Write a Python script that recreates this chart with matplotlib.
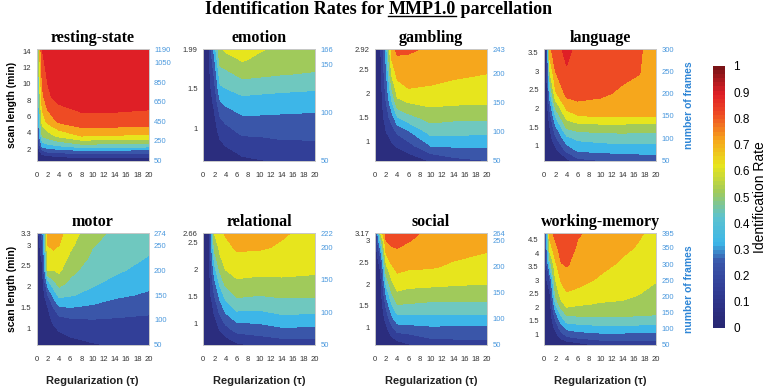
import matplotlib
matplotlib.use("Agg")
import matplotlib.pyplot as plt
import numpy as np
from matplotlib.colors import LinearSegmentedColormap, Normalize
from matplotlib.cm import ScalarMappable
from matplotlib.lines import Line2D

plt.rcParams['font.family'] = ['Liberation Sans', 'DejaVu Sans']

# identification rate grids, one list per tau column (values go up the frames axis)

# resting-state
rest_tau = [0, 0.5, 1, 2, 4, 8, 14, 20]
rest_frames = [50, 100, 150, 200, 300, 450, 700, 1190]
rest_rate = [
    [0.02, 0.02, 0.02, 0.02, 0.02, 0.02, 0.02, 0.02],
    [0.01, 0.04, 0.10, 0.18, 0.30, 0.42, 0.55, 0.70],
    [0.02, 0.08, 0.19, 0.33, 0.51, 0.64, 0.77, 0.90],
    [0.03, 0.10, 0.24, 0.37, 0.55, 0.73, 0.885, 0.94],
    [0.04, 0.115, 0.26, 0.40, 0.62, 0.82, 0.935, 0.96],
    [0.05, 0.14, 0.29, 0.46, 0.70, 0.87, 0.95, 0.965],
    [0.05, 0.13, 0.28, 0.45, 0.69, 0.87, 0.95, 0.965],
    [0.05, 0.13, 0.27, 0.44, 0.68, 0.86, 0.945, 0.96],
]
rest_min = [2, 4, 6, 8, 10, 12, 14]
rest_min_labels = ["2", "4", "6", "8", "10", "12", "14"]
rest_nframes = [50, 250, 450, 650, 850, 1050, 1190]

# emotion
emo_tau = [0, 1, 2, 3, 4, 7, 10, 14, 20]
emo_frames = [50, 65, 80, 95, 110, 125, 140, 155, 166]
emo_rate = [
    [0.01, 0.01, 0.01, 0.01, 0.01, 0.01, 0.01, 0.01, 0.01],
    [0.01, 0.02, 0.03, 0.04, 0.05, 0.06, 0.07, 0.08, 0.09],
    [0.02, 0.04, 0.06, 0.085, 0.12, 0.17, 0.22, 0.29, 0.35],
    [0.04, 0.075, 0.13, 0.20, 0.285, 0.38, 0.455, 0.54, 0.59],
    [0.05, 0.10, 0.165, 0.23, 0.32, 0.40, 0.47, 0.56, 0.62],
    [0.08, 0.15, 0.22, 0.29, 0.36, 0.44, 0.53, 0.61, 0.64],
    [0.095, 0.16, 0.22, 0.29, 0.355, 0.43, 0.52, 0.58, 0.61],
    [0.11, 0.175, 0.23, 0.285, 0.35, 0.42, 0.505, 0.56, 0.58],
    [0.12, 0.18, 0.23, 0.28, 0.34, 0.41, 0.49, 0.55, 0.57],
]
emo_min = [1, 1.5, 1.99]
emo_min_labels = ["1", "1.5", "1.99"]
emo_nframes = [50, 100, 150, 166]

# gambling
gam_tau = [0, 1, 2, 3, 4, 6, 10, 14, 20]
gam_frames = [50, 75, 100, 125, 150, 175, 200, 225, 243]
gam_rate = [
    [0.01, 0.01, 0.01, 0.01, 0.01, 0.01, 0.01, 0.01, 0.01],
    [0.01, 0.02, 0.03, 0.04, 0.05, 0.06, 0.07, 0.08, 0.09],
    [0.02, 0.06, 0.10, 0.15, 0.20, 0.24, 0.28, 0.32, 0.35],
    [0.02, 0.08, 0.15, 0.25, 0.38, 0.50, 0.62, 0.70, 0.76],
    [0.02, 0.11, 0.22, 0.40, 0.57, 0.66, 0.73, 0.78, 0.83],
    [0.04, 0.16, 0.29, 0.47, 0.60, 0.70, 0.75, 0.78, 0.82],
    [0.11, 0.30, 0.44, 0.54, 0.625, 0.69, 0.735, 0.76, 0.78],
    [0.17, 0.31, 0.43, 0.525, 0.615, 0.67, 0.72, 0.75, 0.77],
    [0.20, 0.31, 0.425, 0.52, 0.61, 0.655, 0.70, 0.735, 0.76],
]
gam_min = [1, 1.5, 2, 2.5, 2.92]
gam_min_labels = ["1", "1.5", "2", "2.5", "2.92"]
gam_nframes = [50, 100, 150, 200, 243]

# language
lan_tau = [0, 0.5, 1, 2, 4, 6, 10, 14, 17, 18, 20]
lan_frames = [50, 75, 100, 125, 150, 175, 200, 250, 300]
lan_rate = [
    [0.01, 0.01, 0.01, 0.01, 0.01, 0.01, 0.01, 0.01, 0.01],
    [0.01, 0.015, 0.02, 0.03, 0.05, 0.07, 0.09, 0.12, 0.15],
    [0.01, 0.03, 0.06, 0.10, 0.16, 0.25, 0.38, 0.60, 0.78],
    [0.03, 0.08, 0.18, 0.28, 0.41, 0.55, 0.68, 0.80, 0.86],
    [0.07, 0.24, 0.37, 0.52, 0.645, 0.75, 0.83, 0.89, 0.93],
    [0.17, 0.33, 0.42, 0.55, 0.695, 0.79, 0.82, 0.85, 0.87],
    [0.20, 0.34, 0.44, 0.56, 0.71, 0.77, 0.82, 0.84, 0.85],
    [0.22, 0.35, 0.45, 0.56, 0.71, 0.74, 0.78, 0.83, 0.84],
    [0.23, 0.35, 0.445, 0.555, 0.705, 0.735, 0.77, 0.805, 0.82],
    [0.24, 0.35, 0.44, 0.555, 0.705, 0.73, 0.75, 0.775, 0.785],
    [0.24, 0.35, 0.44, 0.555, 0.705, 0.73, 0.75, 0.77, 0.78],
]
lan_min = [1, 1.5, 2, 2.5, 3, 3.5]
lan_min_labels = ["1", "1.5", "2", "2.5", "3", "3.5"]
lan_nframes = [50, 100, 150, 200, 250, 300]

# motor
mot_tau = [0, 1, 2, 3, 4, 6, 10, 14, 20]
mot_frames = [50, 75, 100, 125, 150, 175, 200, 225, 250, 274]
mot_rate = [
    [0.01, 0.01, 0.01, 0.01, 0.01, 0.01, 0.01, 0.01, 0.01, 0.01],
    [0.01, 0.015, 0.02, 0.03, 0.04, 0.05, 0.07, 0.12, 0.18, 0.25],
    [0.02, 0.04, 0.07, 0.10, 0.20, 0.37, 0.60, 0.66, 0.70, 0.72],
    [0.02, 0.07, 0.12, 0.20, 0.33, 0.47, 0.60, 0.67, 0.72, 0.74],
    [0.03, 0.095, 0.16, 0.285, 0.43, 0.54, 0.62, 0.66, 0.70, 0.73],
    [0.05, 0.13, 0.185, 0.30, 0.41, 0.48, 0.53, 0.58, 0.62, 0.65],
    [0.09, 0.15, 0.195, 0.28, 0.365, 0.42, 0.45, 0.48, 0.505, 0.53],
    [0.11, 0.15, 0.19, 0.25, 0.32, 0.37, 0.42, 0.45, 0.47, 0.48],
    [0.11, 0.15, 0.18, 0.23, 0.285, 0.33, 0.36, 0.395, 0.42, 0.45],
]
mot_min = [1, 1.5, 2, 2.5, 3, 3.3]
mot_min_labels = ["1", "1.5", "2", "2.5", "3", "3.3"]
mot_nframes = [50, 100, 150, 200, 250, 274]

# relational
rel_tau = [0, 1, 2, 3, 4, 6, 10, 14, 20]
rel_frames = [50, 75, 100, 125, 150, 175, 200, 222]
rel_rate = [
    [0.01, 0.01, 0.01, 0.01, 0.01, 0.01, 0.01, 0.01],
    [0.01, 0.02, 0.03, 0.04, 0.05, 0.06, 0.07, 0.08],
    [0.02, 0.05, 0.11, 0.20, 0.29, 0.41, 0.53, 0.60],
    [0.02, 0.11, 0.22, 0.33, 0.45, 0.56, 0.63, 0.68],
    [0.03, 0.17, 0.305, 0.43, 0.55, 0.63, 0.67, 0.71],
    [0.08, 0.245, 0.39, 0.51, 0.595, 0.655, 0.715, 0.75],
    [0.12, 0.26, 0.385, 0.495, 0.585, 0.65, 0.71, 0.75],
    [0.14, 0.29, 0.415, 0.51, 0.59, 0.645, 0.69, 0.71],
    [0.15, 0.285, 0.41, 0.505, 0.585, 0.63, 0.655, 0.67],
]
rel_min = [1, 1.5, 2, 2.5, 2.66]
rel_min_labels = ["1", "1.5", "2", "2.5", "2.66"]
rel_nframes = [50, 100, 150, 200, 222]

# social
soc_tau = [0, 1, 2, 3, 4, 6, 10, 14, 20]
soc_frames = [50, 75, 100, 125, 150, 175, 200, 225, 250, 264]
soc_rate = [
    [0.01, 0.01, 0.01, 0.01, 0.01, 0.01, 0.01, 0.01, 0.01, 0.01],
    [0.01, 0.02, 0.03, 0.04, 0.05, 0.07, 0.12, 0.25, 0.45, 0.60],
    [0.02, 0.06, 0.13, 0.22, 0.33, 0.46, 0.58, 0.705, 0.80, 0.86],
    [0.03, 0.14, 0.27, 0.39, 0.50, 0.60, 0.69, 0.76, 0.83, 0.88],
    [0.05, 0.21, 0.36, 0.49, 0.59, 0.67, 0.73, 0.78, 0.83, 0.87],
    [0.09, 0.22, 0.365, 0.485, 0.575, 0.65, 0.715, 0.755, 0.805, 0.83],
    [0.15, 0.25, 0.365, 0.47, 0.565, 0.645, 0.71, 0.74, 0.76, 0.77],
    [0.16, 0.25, 0.36, 0.47, 0.565, 0.63, 0.685, 0.72, 0.745, 0.755],
    [0.16, 0.25, 0.36, 0.47, 0.56, 0.62, 0.66, 0.697, 0.725, 0.74],
]
soc_min = [1, 1.5, 2, 2.5, 3, 3.17]
soc_min_labels = ["1", "1.5", "2", "2.5", "3", "3.17"]
soc_nframes = [50, 100, 150, 200, 250, 264]

# working-memory
wm_tau = [0, 1, 2, 3, 4, 6, 10, 14, 17, 20]
wm_frames = [50, 75, 100, 125, 150, 175, 200, 250, 300, 350, 395]
wm_rate = [
    [0.01, 0.01, 0.01, 0.01, 0.01, 0.01, 0.01, 0.01, 0.01, 0.01, 0.01],
    [0.01, 0.015, 0.02, 0.03, 0.04, 0.05, 0.07, 0.20, 0.45, 0.65, 0.75],
    [0.01, 0.05, 0.12, 0.20, 0.29, 0.40, 0.50, 0.60, 0.68, 0.77, 0.84],
    [0.015, 0.13, 0.24, 0.34, 0.44, 0.56, 0.63, 0.71, 0.795, 0.84, 0.86],
    [0.02, 0.195, 0.315, 0.435, 0.54, 0.63, 0.68, 0.75, 0.81, 0.85, 0.87],
    [0.05, 0.23, 0.34, 0.45, 0.54, 0.61, 0.66, 0.735, 0.765, 0.785, 0.81],
    [0.13, 0.25, 0.36, 0.46, 0.54, 0.59, 0.63, 0.685, 0.73, 0.75, 0.76],
    [0.14, 0.25, 0.36, 0.46, 0.54, 0.585, 0.615, 0.65, 0.685, 0.72, 0.735],
    [0.14, 0.245, 0.355, 0.455, 0.53, 0.57, 0.595, 0.635, 0.665, 0.69, 0.71],
    [0.14, 0.245, 0.35, 0.45, 0.52, 0.55, 0.57, 0.605, 0.63, 0.65, 0.67],
]
wm_min = [1, 1.5, 2, 2.5, 3, 3.5, 4, 4.5]
wm_min_labels = ["1", "1.5", "2", "2.5", "3", "3.5", "4", "4.5"]
wm_nframes = [50, 100, 150, 200, 250, 300, 350, 395]

panels = [
    ("resting-state", rest_tau, rest_frames, rest_rate, rest_min, rest_min_labels, rest_nframes),
    ("emotion", emo_tau, emo_frames, emo_rate, emo_min, emo_min_labels, emo_nframes),
    ("gambling", gam_tau, gam_frames, gam_rate, gam_min, gam_min_labels, gam_nframes),
    ("language", lan_tau, lan_frames, lan_rate, lan_min, lan_min_labels, lan_nframes),
    ("motor", mot_tau, mot_frames, mot_rate, mot_min, mot_min_labels, mot_nframes),
    ("relational", rel_tau, rel_frames, rel_rate, rel_min, rel_min_labels, rel_nframes),
    ("social", soc_tau, soc_frames, soc_rate, soc_min, soc_min_labels, soc_nframes),
    ("working-memory", wm_tau, wm_frames, wm_rate, wm_min, wm_min_labels, wm_nframes),
]

TR_MIN = 0.72 / 60  # minutes per frame

band_colors = ['#2b2d7e', '#323f98', '#3a56a9', '#3db6e8', '#6fc8bf',
               '#a0ca5b', '#e7e51d', '#f6a71c', '#ee4b24', '#df1f26']
cbar_cmap = LinearSegmentedColormap.from_list(
    "idrate",
    [(0.0, '#272773'), (0.05, '#2b2d7e'), (0.15, '#323f98'), (0.25, '#3a56a9'),
     (0.32, '#3db6e8'), (0.42, '#5cc2cf'), (0.52, '#a0ca5b'), (0.62, '#e7e51d'),
     (0.72, '#f6a71c'), (0.82, '#ee4b24'), (0.9, '#df1f26'), (1.0, '#7a1316')], N=64)
levels = np.arange(0, 1.01, 0.1)

W, H = 769, 388
fig = plt.figure(figsize=(W / 100, H / 100), dpi=100)

col_x = [36.7, 203.3, 375, 544.3]
row_top = [49, 233.3]
pw, ph = 111.8, 111.5

left_col = '#333333'
right_col = '#4a98dd'
for i, (name, tau, frames, rate, mins, min_labels, nframes) in enumerate(panels):
    r, c = divmod(i, 4)
    ax = fig.add_axes([col_x[c] / W, 1 - (row_top[r] + ph) / H, pw / W, ph / H])
    Z = np.array(rate).T
    ax.contourf(tau, frames, Z, levels=levels, colors=band_colors, antialiased=False)
    top = frames[-1]
    ax.set_xlim(0, 20)
    ax.set_ylim(50, top)
    ax.set_xticks(range(0, 21, 2))
    ax.set_yticks([min(m / TR_MIN, top) for m in mins])
    ax.set_yticklabels(min_labels)
    ax.tick_params(axis='x', length=0, pad=8, labelsize=5.5, labelcolor=left_col)
    ax.tick_params(axis='y', length=0, pad=4, labelsize=5.5, labelcolor=left_col)
    ax2 = ax.twinx()
    ax2.set_ylim(50, top)
    ax2.set_yticks(nframes)
    ax2.tick_params(axis='y', length=0, pad=4, labelsize=5.5, labelcolor=right_col)
    for a in (ax, ax2):
        for s in a.spines.values():
            s.set_color('#c8c8c8')
            s.set_linewidth(0.6)
    ax.set_title(name, fontfamily='Liberation Serif', fontweight='bold', fontsize=11.5, pad=5)

# side labels
for r in range(2):
    yc = 1 - (row_top[r] + ph / 2) / H
    fig.text(12 / W, yc, "scan length (min)", rotation=90, ha='center', va='center',
             fontsize=7.5, fontweight='bold')
    fig.text(689 / W, yc, "number of frames", rotation=90, ha='center', va='center',
             fontsize=7.5, fontweight='bold', color='#2f86d6')
for c in range(4):
    fig.text((col_x[c] + pw / 2) / W, 1 - 381 / H, "Regularization (τ)", ha='center',
             va='center', fontsize=8, fontweight='bold', color='#222222')

# colorbar
cax = fig.add_axes([713.3 / W, 1 - 328 / H, 11.7 / W, 262 / H])
cb = fig.colorbar(ScalarMappable(Normalize(0, 1), cbar_cmap), cax=cax, ticks=levels)
cb.set_ticklabels(["0", "0.1", "0.2", "0.3", "0.4", "0.5", "0.6", "0.7", "0.8", "0.9", "1"])
cb.outline.set_visible(False)
cax.tick_params(length=0, labelsize=8.5, pad=6)
cb.set_label("Identification Rate", fontsize=10, labelpad=2)

# title with underlined parcellation name
tkw = dict(fontfamily='Liberation Serif', fontweight='bold', fontsize=13, va='baseline')
ty = 1 - 13.5 / H
parts = ["Identification Rates for ", "MMP1.0", " parcellation"]
texts = [fig.text(0, ty, p, **tkw) for p in parts]
fig.canvas.draw()
rend = fig.canvas.get_renderer()
widths = [t.get_window_extent(rend).width for t in texts]
x = 378.5 - sum(widths) / 2
for t, w in zip(texts, widths):
    t.set_x(x / W)
    x += w
x0 = (378.5 - sum(widths) / 2 + widths[0]) / W
x1 = x0 + widths[1] / W
fig.add_artist(Line2D([x0, x1], [ty - 2.2 / H, ty - 2.2 / H], color='black', lw=1.0))

fig.savefig("out.png", dpi=100)
